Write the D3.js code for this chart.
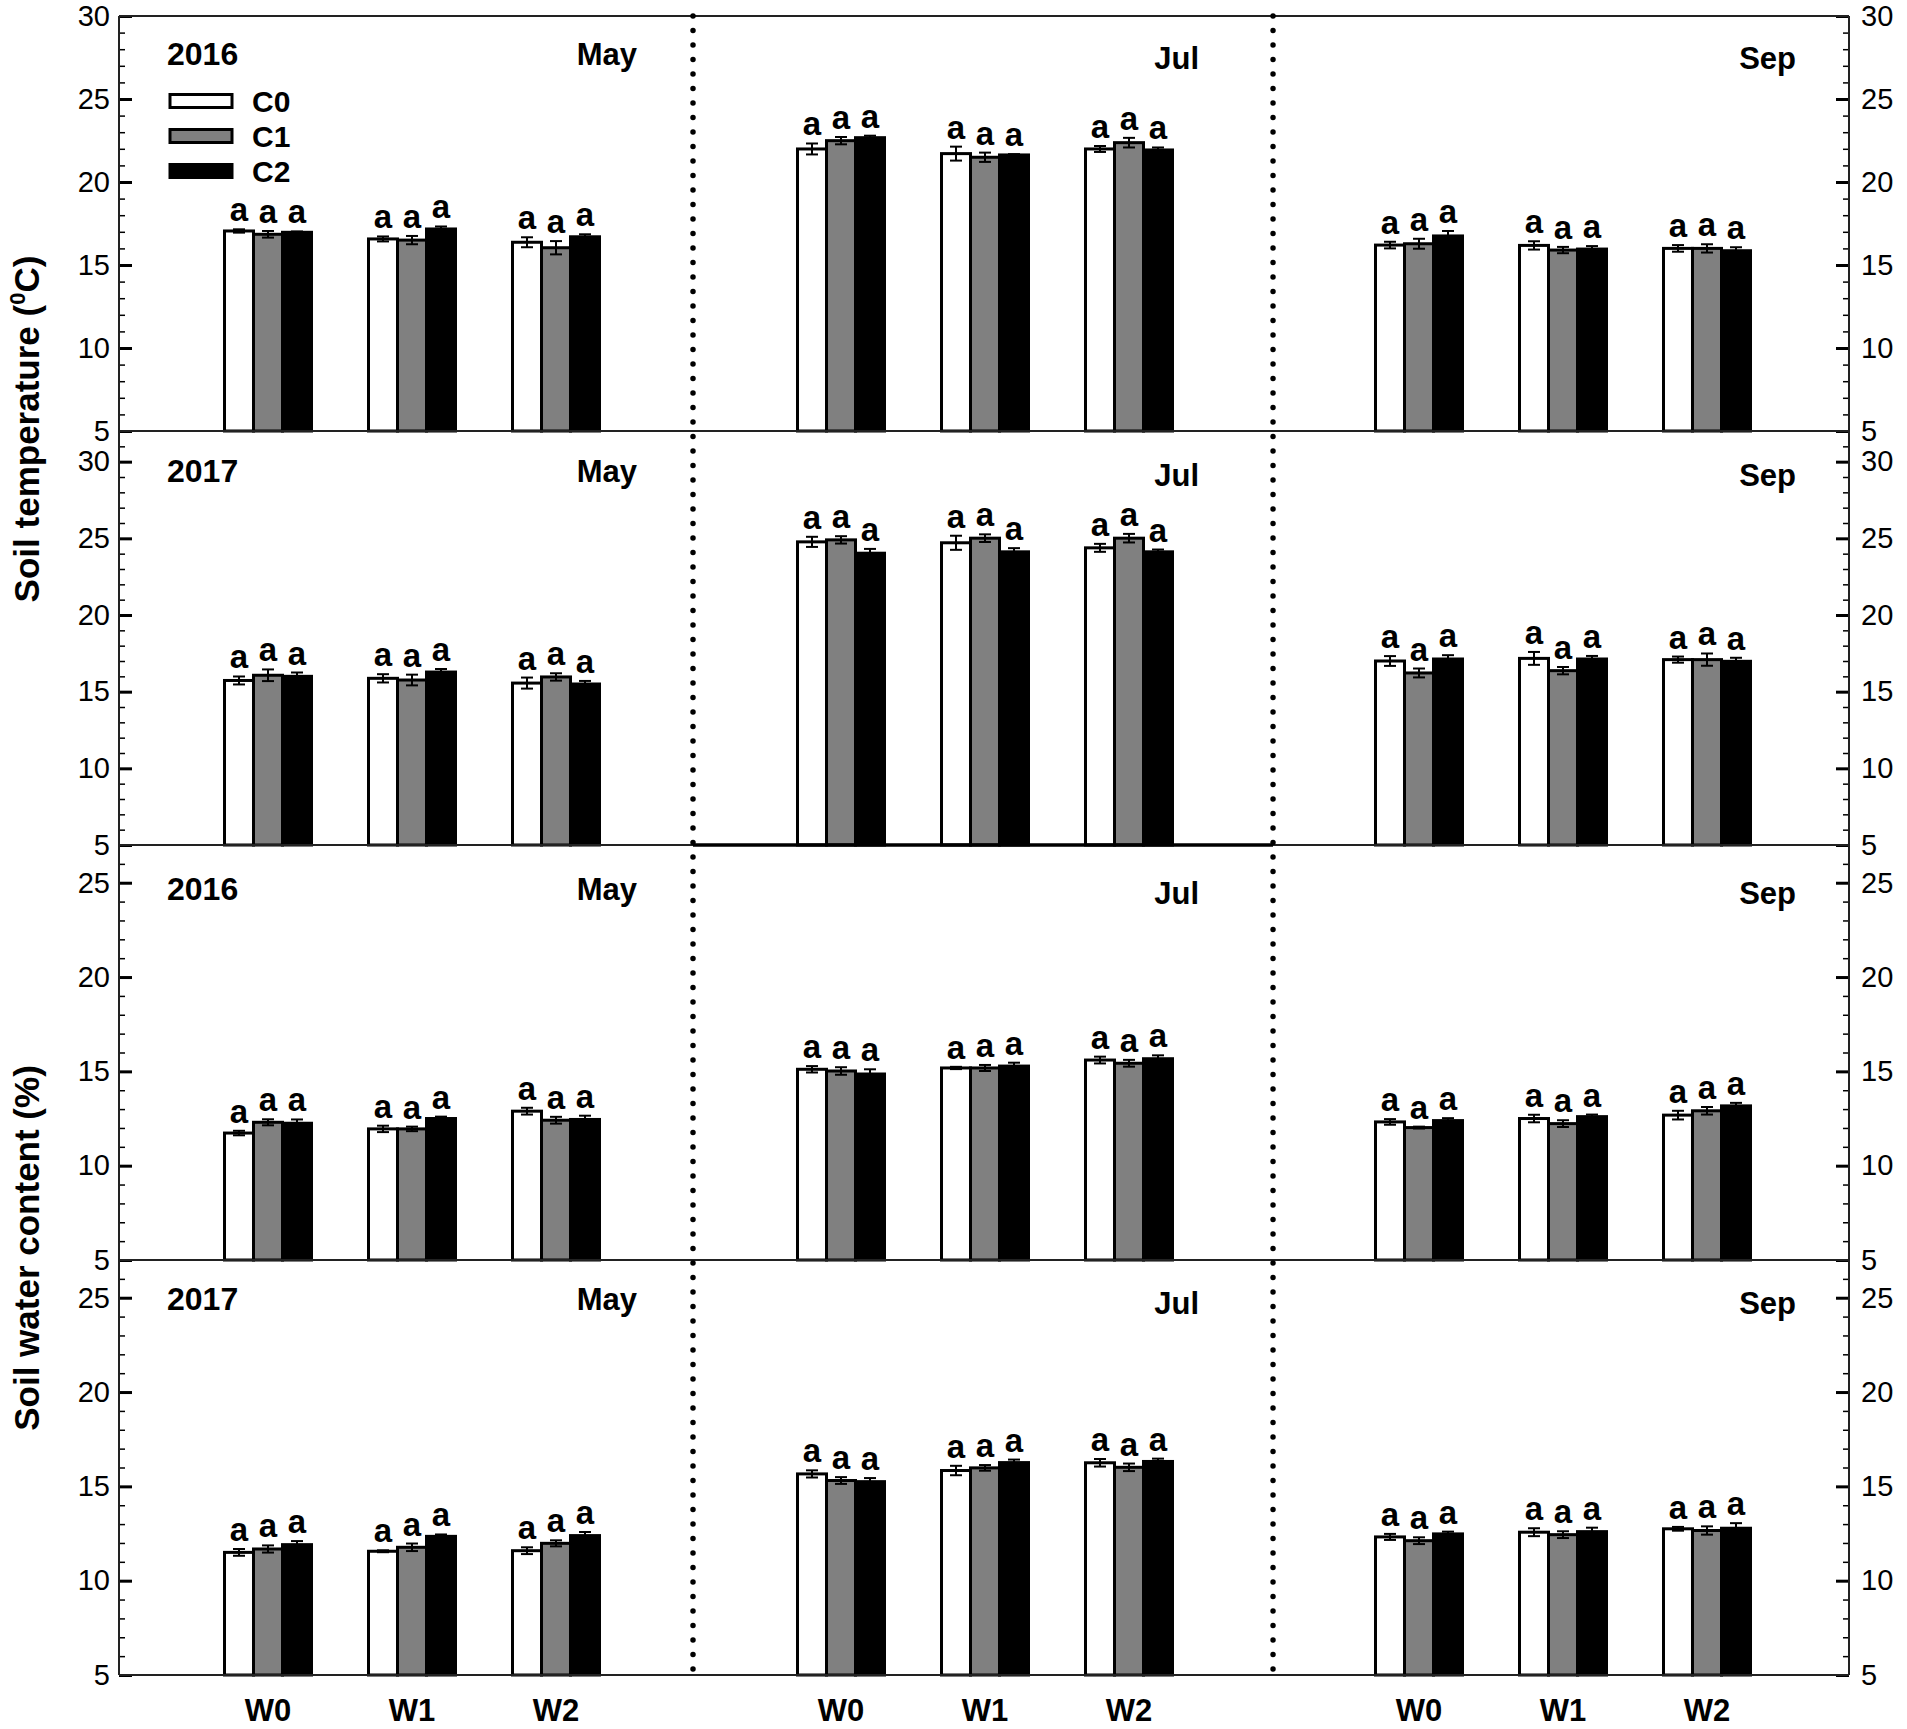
<!DOCTYPE html>
<html><head><meta charset="utf-8">
<script src="https://cdn.jsdelivr.net/npm/d3@7"></script>
<style>
html,body{margin:0;padding:0;background:#fff;}
svg{display:block;}
text{font-family:"Liberation Sans", Arial, Helvetica, sans-serif;}
</style></head>
<body>
<svg id="chart" width="1907" height="1729"></svg>
<script>
// ---------------- DATA ----------------
const treatments = ["W0", "W1", "W2"];
const series = ["C0", "C1", "C2"];
const months = ["May", "Jul", "Sep"];
const years = ["2016", "2017", "2016", "2017"];
const sigLetter = "a";

// [month][treatment][series]
const temp2016Mean = [
  [[17.05, 16.85, 16.97], [16.57, 16.50, 17.17], [16.37, 16.04, 16.70]],
  [[21.99, 22.49, 22.67], [21.71, 21.49, 21.63], [21.99, 22.37, 21.93]],
  [[16.20, 16.28, 16.75], [16.18, 15.90, 15.96], [16.00, 16.00, 15.86]]
];
const temp2016Err = [
  [[0.10, 0.20, 0.05], [0.15, 0.25, 0.15], [0.30, 0.40, 0.15]],
  [[0.33, 0.22, 0.12], [0.42, 0.28, 0.05], [0.18, 0.29, 0.15]],
  [[0.20, 0.30, 0.30], [0.25, 0.19, 0.18], [0.20, 0.25, 0.21]]
];
const temp2017Mean = [
  [[15.73, 16.07, 16.00], [15.87, 15.76, 16.28], [15.56, 15.96, 15.50]],
  [[24.77, 24.90, 24.03], [24.71, 25.01, 24.12], [24.38, 25.01, 24.12]],
  [[17.00, 16.22, 17.13], [17.17, 16.37, 17.13], [17.09, 17.09, 16.98]]
];
const temp2017Err = [
  [[0.26, 0.38, 0.25], [0.27, 0.35, 0.20], [0.36, 0.24, 0.20]],
  [[0.33, 0.24, 0.28], [0.46, 0.25, 0.24], [0.26, 0.28, 0.15]],
  [[0.32, 0.29, 0.25], [0.42, 0.24, 0.20], [0.20, 0.40, 0.23]]
];
const water2016Mean = [
  [[11.73, 12.30, 12.25], [11.95, 11.95, 12.50], [12.89, 12.41, 12.45]],
  [[15.11, 15.02, 14.86], [15.18, 15.18, 15.28], [15.60, 15.43, 15.67]],
  [[12.32, 12.02, 12.39], [12.50, 12.23, 12.60], [12.68, 12.91, 13.17]]
];
const water2016Err = [
  [[0.12, 0.16, 0.20], [0.17, 0.12, 0.10], [0.18, 0.18, 0.20]],
  [[0.17, 0.20, 0.25], [0.06, 0.16, 0.18], [0.18, 0.18, 0.18]],
  [[0.15, 0.05, 0.13], [0.20, 0.18, 0.11], [0.23, 0.20, 0.16]]
];
const water2017Mean = [
  [[11.50, 11.68, 11.91], [11.56, 11.77, 12.35], [11.59, 11.98, 12.39]],
  [[15.66, 15.31, 15.25], [15.84, 15.98, 16.26], [16.25, 16.01, 16.32]],
  [[12.32, 12.12, 12.48], [12.57, 12.44, 12.60], [12.75, 12.66, 12.78]]
];
const water2017Err = [
  [[0.18, 0.19, 0.19], [0.05, 0.20, 0.10], [0.18, 0.16, 0.19]],
  [[0.19, 0.18, 0.19], [0.25, 0.15, 0.16], [0.20, 0.20, 0.15]],
  [[0.16, 0.18, 0.12], [0.21, 0.18, 0.21], [0.10, 0.22, 0.27]]
];
const tempDomain2016 = [5, 30];
const tempDomain2017 = [5, 32];
const waterDomain = [5, 27];
const tempTicks = [5, 10, 15, 20, 25, 30];
const waterTicks = [5, 10, 15, 20, 25];

// ---------------- LAYOUT ----------------
const svg = d3.select("#chart");
const axL = 119, axR = 1849;
const panelTops = [16, 431, 845, 1260];
const panelBottoms = [431, 845, 1260, 1675];
const colX0 = [119, 692, 1270];
const dividers = [693, 1273];
const fills = {C0: "#ffffff", C1: "#808080", C2: "#000000"};

const panels = [
  {mean: temp2016Mean, err: temp2016Err, domain: tempDomain2016, ticks: tempTicks, year: years[0], labDy: 49},
  {mean: temp2017Mean, err: temp2017Err, domain: tempDomain2017, ticks: tempTicks, year: years[1], labDy: 51},
  {mean: water2016Mean, err: water2016Err, domain: waterDomain, ticks: waterTicks, year: years[2], labDy: 55},
  {mean: water2017Mean, err: water2017Err, domain: waterDomain, ticks: waterTicks, year: years[3], labDy: 50}
];
const monthDx = [56, 71, 53];
const monthDy = [0, 4, 4];

const xInner = d3.scaleBand().domain(series).range([-43.5, 43.5]);
const xGroups = colX0.map(x0 => d3.scalePoint().domain(treatments).range([x0 + 149, x0 + 437]));

function styleAxis(g) {
  g.attr("font-size", null).attr("font-family", null);
  g.select(".domain").remove();
  g.selectAll(".tick line").attr("stroke", "#000");
  g.selectAll(".tick text").attr("fill", "#000").attr("font-size", 29)
    .attr("font-family", '"Liberation Sans", Arial, sans-serif');
}

panels.forEach((p, pi) => {
  const y = d3.scaleLinear().domain(p.domain).range([panelBottoms[pi], panelTops[pi]]);
  const minor = d3.range(p.domain[0], p.domain[1] + 0.001, 1).filter(v => v % 5 !== 0);

  // minor ticks
  const gml = svg.append("g").attr("transform", `translate(${axL},0)`)
    .call(d3.axisLeft(y).tickValues(minor).tickSize(-6).tickFormat(""));
  styleAxis(gml); gml.selectAll(".tick line").attr("stroke-width", 1.5);
  const gmr = svg.append("g").attr("transform", `translate(${axR},0)`)
    .call(d3.axisRight(y).tickValues(minor).tickSize(-6).tickFormat(""));
  styleAxis(gmr); gmr.selectAll(".tick line").attr("stroke-width", 1.5);

  // major ticks
  const gl = svg.append("g").attr("transform", `translate(${axL},0)`)
    .call(d3.axisLeft(y).tickValues(p.ticks).tickSize(-13).tickPadding(9).tickFormat(d3.format("d")));
  styleAxis(gl); gl.selectAll(".tick line").attr("stroke-width", 3);
  const gr = svg.append("g").attr("transform", `translate(${axR},0)`)
    .call(d3.axisRight(y).tickValues(p.ticks).tickSize(-13).tickPadding(12).tickFormat(d3.format("d")));
  styleAxis(gr); gr.selectAll(".tick line").attr("stroke-width", 3);

  // bars
  months.forEach((m, mi) => {
    const xg = xGroups[mi];
    const g = svg.append("g");
    treatments.forEach((w, wi) => {
      series.forEach((c, ci) => {
        const v = p.mean[mi][wi][ci], e = p.err[mi][wi][ci];
        const x = xg(w) + xInner(c);
        const cx = x + xInner.bandwidth() / 2;
        g.append("rect")
          .attr("x", x).attr("y", y(v))
          .attr("width", xInner.bandwidth())
          .attr("height", y(p.domain[0]) - y(v))
          .attr("fill", fills[c]).attr("stroke", "#000").attr("stroke-width", 3);
        // error bar
        g.append("line").attr("x1", cx).attr("x2", cx)
          .attr("y1", y(v - e)).attr("y2", y(v + e))
          .attr("stroke", "#000").attr("stroke-width", 2);
        [v - e, v + e].forEach(t => {
          g.append("line").attr("x1", cx - 6).attr("x2", cx + 6)
            .attr("y1", y(t)).attr("y2", y(t))
            .attr("stroke", "#000").attr("stroke-width", 2);
        });
        g.append("text").attr("x", cx).attr("y", y(v + e) - 8)
          .attr("text-anchor", "middle").attr("font-size", 33).attr("font-weight", "bold")
          .text(sigLetter);
      });
    });
    // month label
    svg.append("text")
      .attr("x", (mi < 2 ? colX0[mi + 1] : axR) - monthDx[mi] + (mi === 0 ? 1 : 0))
      .attr("y", panelTops[pi] + p.labDy + monthDy[mi])
      .attr("text-anchor", "end").attr("font-size", 31).attr("font-weight", "bold")
      .text(m);
  });

  // year label
  svg.append("text").attr("x", 167).attr("y", panelTops[pi] + p.labDy)
    .attr("font-size", 32).attr("font-weight", "bold").text(p.year);
});

// frame lines
const hLines = [16, 431, 845, 1260, 1675];
svg.selectAll(".hline").data(hLines).enter().append("line")
  .attr("x1", axL).attr("x2", axR).attr("y1", d => d).attr("y2", d => d)
  .attr("stroke", "#222").attr("stroke-width", 2);
svg.append("line").attr("x1", dividers[0]).attr("x2", dividers[1]).attr("y1", 845).attr("y2", 845)
  .attr("stroke", "#000").attr("stroke-width", 3.5);
[axL, axR].forEach(x => {
  svg.append("line").attr("x1", x).attr("x2", x).attr("y1", 16).attr("y2", 1675)
    .attr("stroke", "#222").attr("stroke-width", 2);
});
// dotted dividers
dividers.forEach(x => {
  svg.append("line").attr("x1", x).attr("x2", x).attr("y1", 16).attr("y2", 1675)
    .attr("stroke", "#000").attr("stroke-width", 5.5)
    .attr("stroke-linecap", "round").attr("stroke-dasharray", "0.1 14.4");
});

// legend
const legY = [101, 136, 171];
series.forEach((c, i) => {
  svg.append("rect").attr("x", 170).attr("y", legY[i] - 6.5).attr("width", 62).attr("height", 13)
    .attr("fill", fills[c]).attr("stroke", "#000").attr("stroke-width", 3);
  svg.append("text").attr("x", 252).attr("y", legY[i] + 11)
    .attr("font-size", 30).attr("font-weight", "bold").text(c);
});

// x labels
xGroups.forEach(xg => {
  treatments.forEach(w => {
    svg.append("text").attr("x", xg(w)).attr("y", 1721)
      .attr("text-anchor", "middle").attr("font-size", 31).attr("font-weight", "bold").text(w);
  });
});

// axis titles
const t1 = svg.append("text").attr("transform", "translate(39,429) rotate(-90)")
  .attr("text-anchor", "middle").attr("font-size", 35).attr("font-weight", "bold");
t1.append("tspan").text("Soil temperature (");
t1.append("tspan").attr("font-size", 22).attr("dy", -14).text("0");
t1.append("tspan").attr("dy", 14).text("C)");
svg.append("text").attr("transform", "translate(39,1248) rotate(-90)")
  .attr("text-anchor", "middle").attr("font-size", 35).attr("font-weight", "bold")
  .text("Soil water content (%)");
</script>
</body></html>
